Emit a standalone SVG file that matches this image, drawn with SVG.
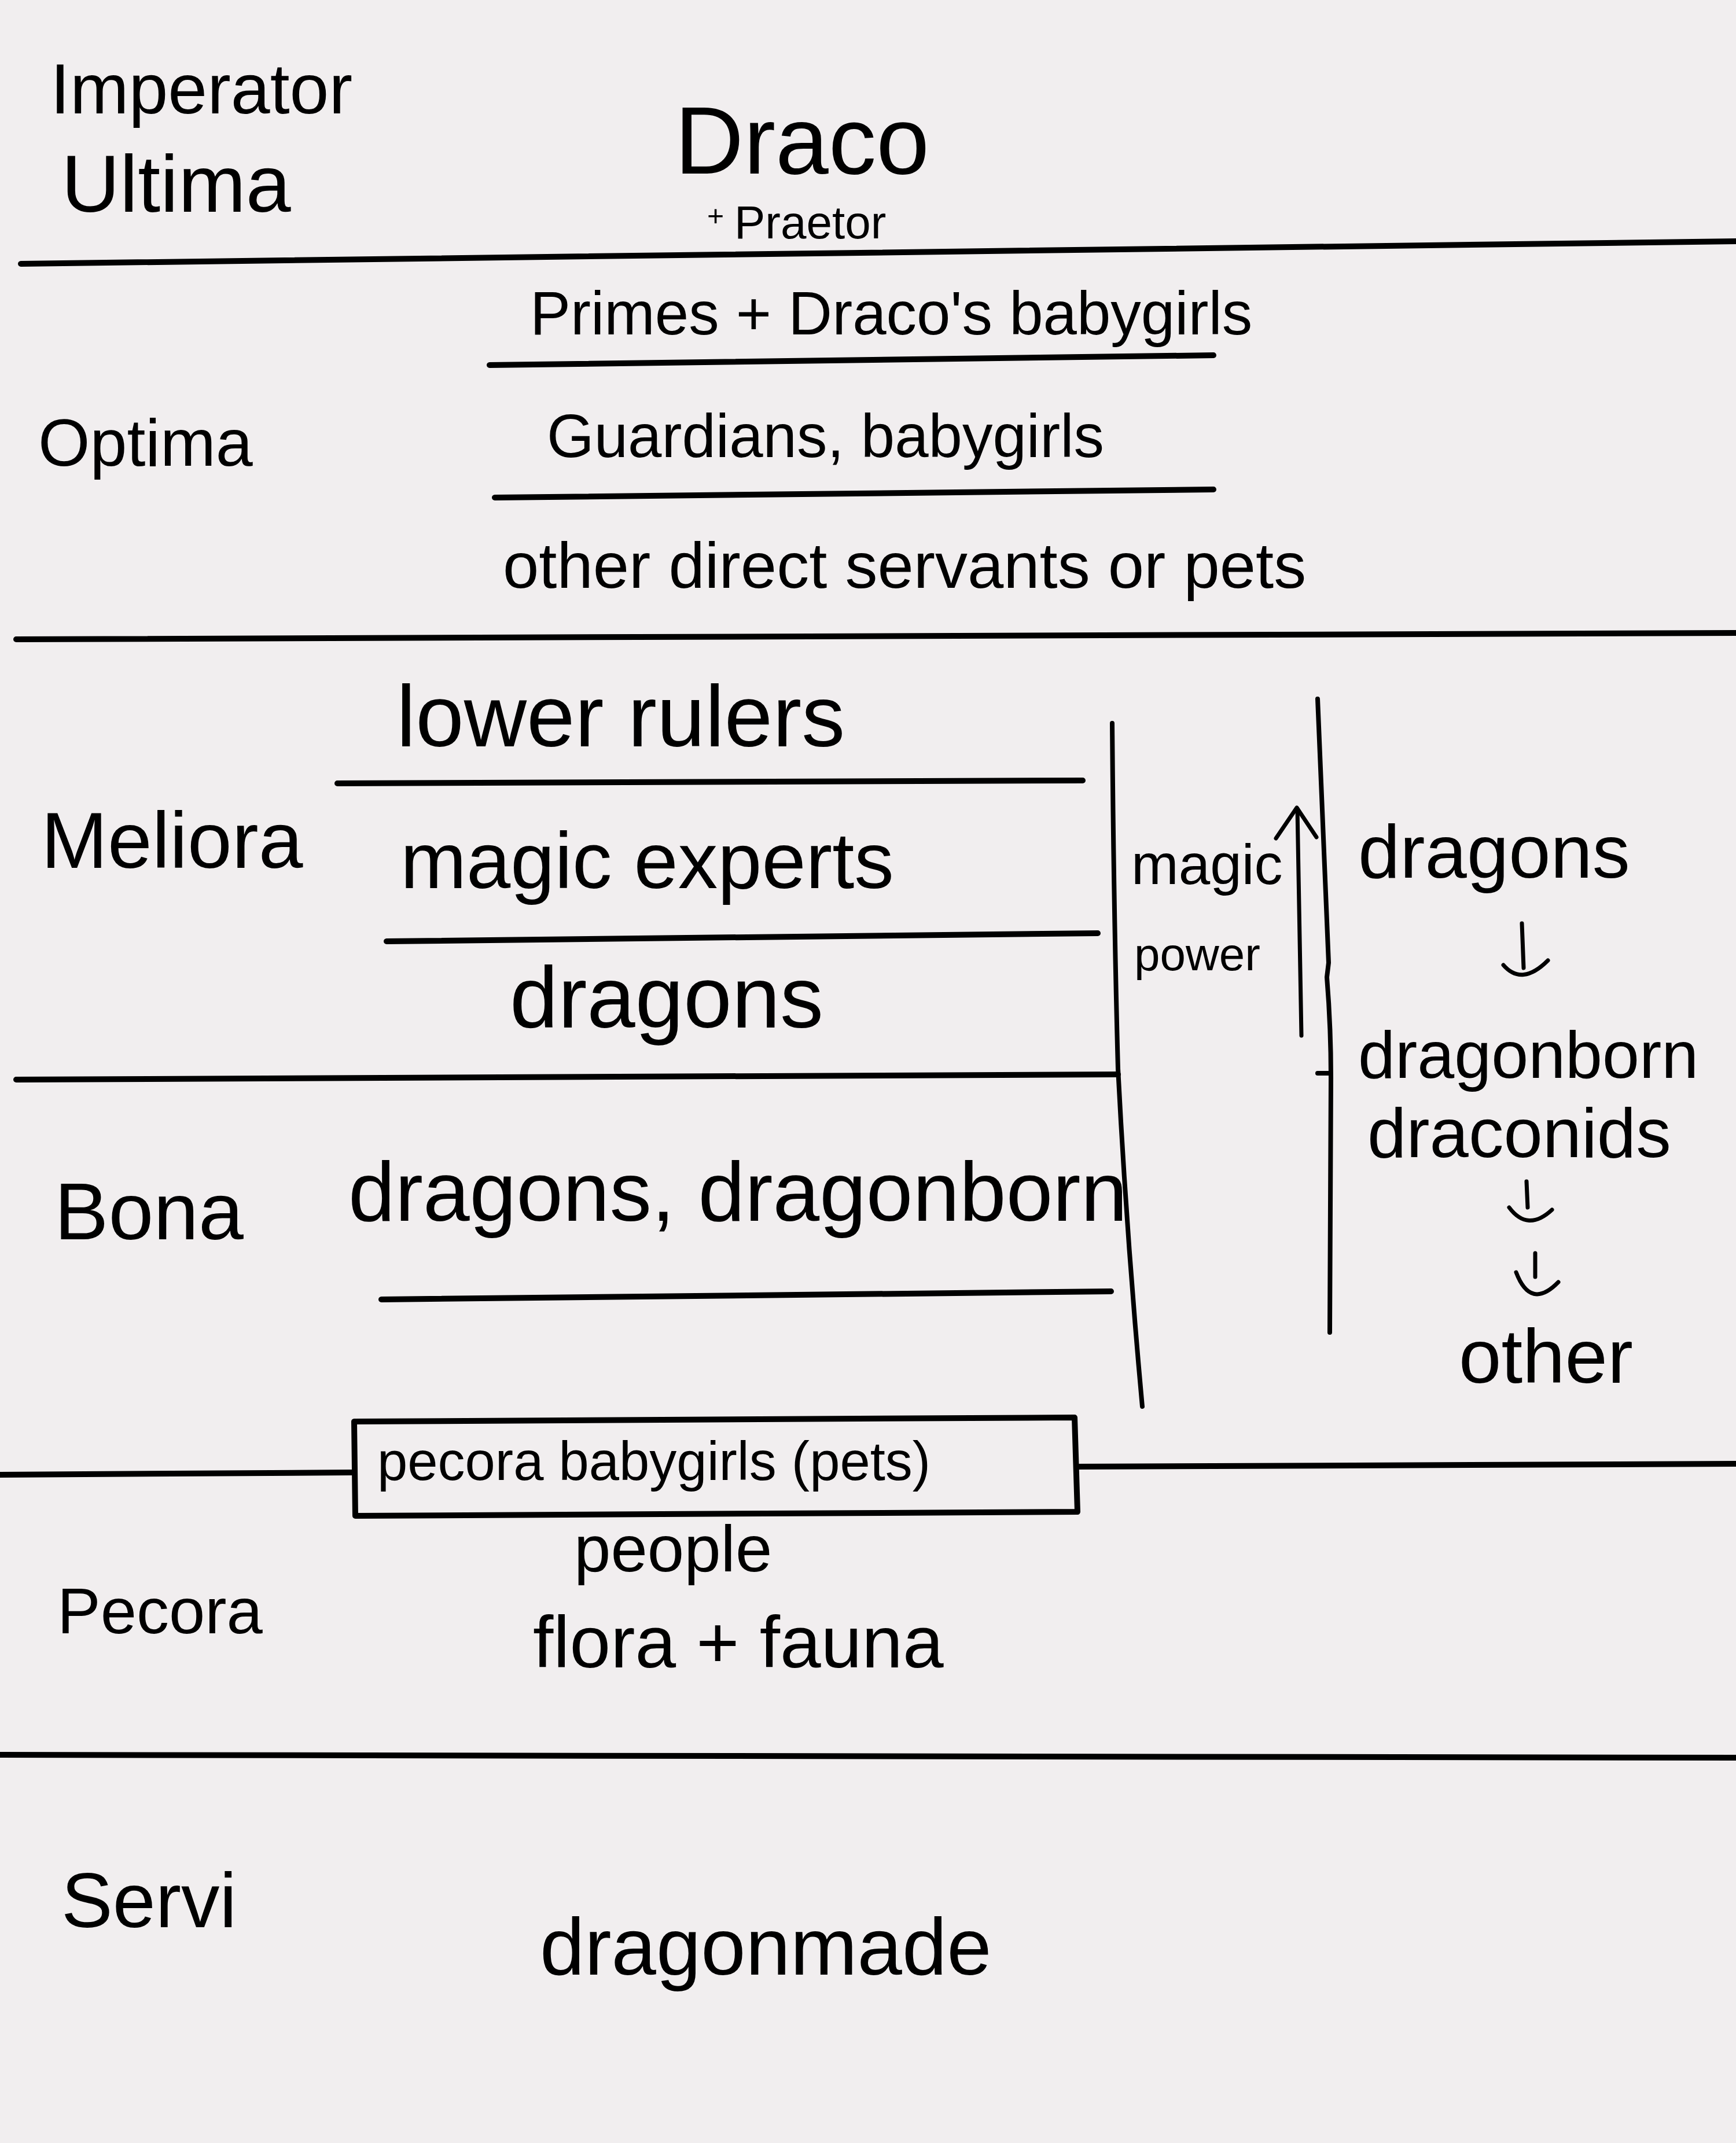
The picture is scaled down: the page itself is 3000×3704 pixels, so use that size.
<svg xmlns="http://www.w3.org/2000/svg" width="3000" height="3704" viewBox="0 0 3000 3704">
<style>
text{font-family:"Liberation Sans","DejaVu Sans",sans-serif;fill:#000}
.ln{stroke:#000;stroke-width:10;fill:none;stroke-linecap:round;stroke-linejoin:round}
.vl{stroke:#000;stroke-width:8;fill:none;stroke-linecap:round;stroke-linejoin:round}
.ar{stroke:#000;stroke-width:7;fill:none;stroke-linecap:round;stroke-linejoin:round}
</style>
<rect width="3000" height="3704" fill="#f1eeef"/>

<g id="dividers">
<path class="ln" d="M36,456 L3000,417"/>
<path class="ln" d="M846,631 L2097,614"/>
<path class="ln" d="M855,860 L2097,846"/>
<path class="ln" d="M28,1105 L3000,1094"/>
<path class="ln" d="M583,1354 L1871,1349"/>
<path class="ln" d="M668,1627 L1897,1613"/>
<path class="ln" d="M28,1866 L1932,1857"/>
<path class="ln" d="M659,2246 L1920,2232"/>
<path class="ln" d="M0,2549 L612,2545"/>
<path class="ln" d="M1861,2535 L3000,2530"/>
<path class="ln" d="M0,3033 L3000,3038"/>
</g>

<g id="tier-imperator">
<text x="87" y="196" font-size="122">Imperator</text>
<text x="106" y="366" font-size="140">Ultima</text>
</g>
<g id="node-draco">
<text x="1166" y="300" font-size="165">Draco</text>
<text x="1222" y="390" font-size="50">+</text>
<text x="1269" y="412" font-size="80">Praetor</text>
</g>

<g id="tier-optima">
<text x="66" y="805" font-size="115">Optima</text>
<text x="916" y="578" font-size="105">Primes + Draco's babygirls</text>
<text x="945" y="790" font-size="105">Guardians, babygirls</text>
<text x="869" y="1016" font-size="112">other direct servants or pets</text>
</g>

<g id="tier-meliora">
<text x="71" y="1500" font-size="138">Meliora</text>
<text x="685" y="1290" font-size="150">lower rulers</text>
<text x="692" y="1535" font-size="137">magic experts</text>
<text x="881" y="1776" font-size="150">dragons</text>
</g>

<g id="tier-bona">
<text x="94" y="2142" font-size="140">Bona</text>
<text x="602" y="2110" font-size="145">dragons, dragonborn</text>
</g>

<g id="node-pecora-pets">
<path class="ln" d="M612,2457 L1857,2450 L1862,2613 L614,2620 Z"/>
<text x="652" y="2558" font-size="94">pecora babygirls (pets)</text>
</g>

<g id="tier-pecora">
<text x="99" y="2823" font-size="112">Pecora</text>
<text x="992" y="2716" font-size="114">people</text>
<text x="921" y="2882" font-size="127">flora + fauna</text>
</g>

<g id="tier-servi">
<text x="106" y="3331" font-size="133">Servi</text>
<text x="933" y="3413" font-size="139">dragonmade</text>
</g>

<g id="side-columns">
<path class="vl" d="M1922,1250 C1924,1500 1928,1700 1932,1847 C1945,2100 1962,2300 1974,2431"/>
<path class="vl" d="M2277,1208 C2284,1400 2292,1560 2296,1664 L2293,1689 C2298,1750 2300,1800 2300,1863 C2300,2000 2299,2150 2298,2303"/>
<path class="vl" d="M2277,1855 L2296,1855"/>
<text x="1955" y="1528" font-size="98">magic</text>
<text x="1960" y="1677" font-size="80">power</text>
<text x="2347" y="1517" font-size="130">dragons</text>
<text x="2347" y="1863" font-size="115">dragonborn</text>
<text x="2363" y="2000" font-size="121">draconids</text>
<text x="2521" y="2390" font-size="132">other</text>
</g>

<g id="connectors">
<path class="ar" d="M2249,1790 L2242,1398"/>
<path class="ar" d="M2205,1449 L2241,1396 L2275,1447"/>
<path class="ar" d="M2630,1596 L2633,1673"/>
<path class="ar" d="M2598,1668 Q2630,1705 2675,1660"/>
<path class="ar" d="M2638,2042 L2640,2087"/>
<path class="ar" d="M2608,2087 Q2640,2130 2682,2091"/>
<path class="ar" d="M2653,2166 L2653,2207"/>
<path class="ar" d="M2620,2199 Q2645,2265 2693,2216"/>
</g>
</svg>
